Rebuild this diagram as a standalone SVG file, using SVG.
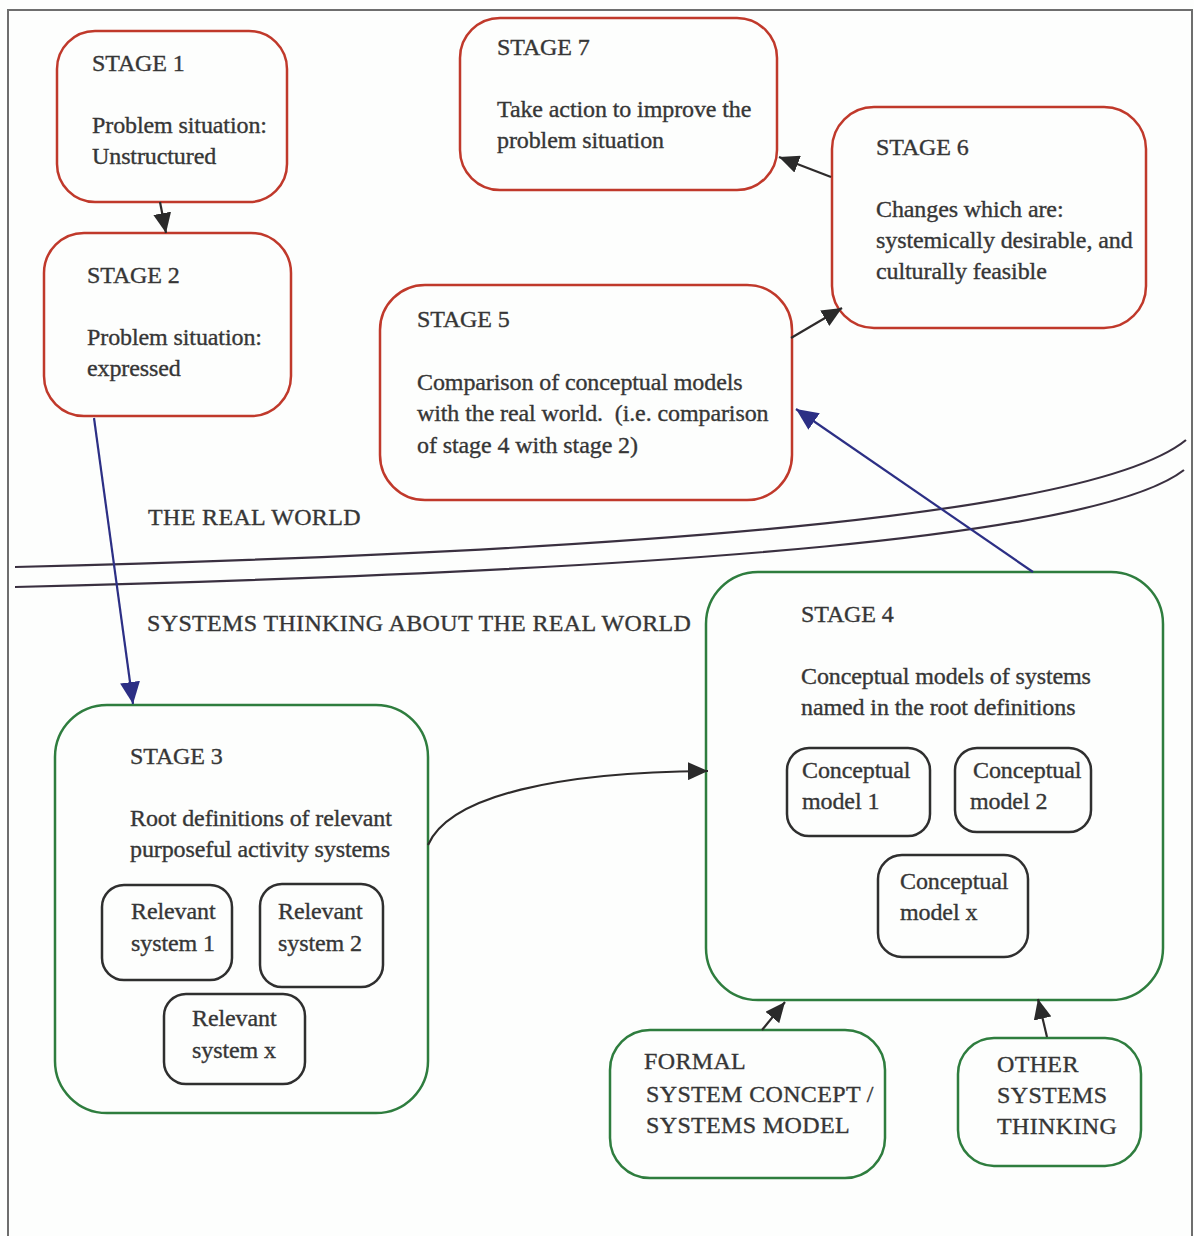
<svg xmlns="http://www.w3.org/2000/svg" width="1194" height="1236" viewBox="0 0 1194 1236">
  <style>
    .t { font-family: "Liberation Serif", "Times New Roman", serif; font-size: 24px; fill: #363636; stroke: #363636; stroke-width: 0.35; letter-spacing: -0.1px; }
    .caps { letter-spacing: 0.35px; }
    .red { fill: none; stroke: #c0392b; stroke-width: 2.5; }
    .green { fill: none; stroke: #2e7d3e; stroke-width: 2.5; }
    .inner { fill: none; stroke: #2f2f2f; stroke-width: 2.5; }
    .blk { fill: none; stroke: #2e2b2b; stroke-width: 2.2; }
    .blue { fill: none; stroke: #2c2f85; stroke-width: 2.2; }
    .divider { fill: none; stroke: #3a3040; stroke-width: 2.2; }
  </style>
  <defs>
    <marker id="ahDark" markerUnits="userSpaceOnUse" markerWidth="22" markerHeight="18" refX="20" refY="9" orient="auto">
      <path d="M0,0 L20,9 L0,18 Z" fill="#2a2a2a"/>
    </marker>
    <marker id="ahBlue" markerUnits="userSpaceOnUse" markerWidth="24" markerHeight="20" refX="22" refY="10" orient="auto">
      <path d="M0,0 L22,10 L0,20 Z" fill="#2c2f85"/>
    </marker>
  </defs>

  <rect width="1194" height="1236" fill="#fdfefd"/>
  <!-- frame -->
  <path d="M8,1236 L8,10 L1192,10 L1192,1236" fill="none" stroke="#6e6e6e" stroke-width="2"/>

  <!-- boundary between the real world and systems thinking -->
  <g id="boundary">
    <path class="divider" d="M15,567 C 700,550 1100,510 1186,440"/>
    <path class="divider" d="M15,587 C 700,570 1100,535 1184,470"/>
    <text class="t caps" x="148" y="525">THE REAL WORLD</text>
    <text class="t caps" x="147" y="631">SYSTEMS THINKING ABOUT THE REAL WORLD</text>
  </g>

  <g id="stage1">
    <rect class="red" x="57" y="31" width="230" height="171" rx="38"/>
    <text class="t" x="92" y="71">STAGE 1</text>
    <text class="t" x="92" y="133">Problem situation:</text>
    <text class="t" x="92" y="164">Unstructured</text>
  </g>

  <g id="stage2">
    <rect class="red" x="44" y="233" width="247" height="183" rx="40"/>
    <text class="t" x="87" y="283">STAGE 2</text>
    <text class="t" x="87" y="345">Problem situation:</text>
    <text class="t" x="87" y="376">expressed</text>
  </g>

  <g id="stage7">
    <rect class="red" x="460" y="18" width="317" height="172" rx="40"/>
    <text class="t" x="497" y="55">STAGE 7</text>
    <text class="t" x="497" y="117">Take action to improve the</text>
    <text class="t" x="497" y="148">problem situation</text>
  </g>

  <g id="stage6">
    <rect class="red" x="832" y="107" width="314" height="221" rx="42"/>
    <text class="t" x="876" y="155">STAGE 6</text>
    <text class="t" x="876" y="217">Changes which are:</text>
    <text class="t" x="876" y="248">systemically desirable, and</text>
    <text class="t" x="876" y="279">culturally feasible</text>
  </g>

  <g id="stage5">
    <rect class="red" x="380" y="285" width="412" height="215" rx="45"/>
    <text class="t" x="417" y="327">STAGE 5</text>
    <text class="t" x="417" y="390">Comparison of conceptual models</text>
    <text class="t" x="417" y="421" xml:space="preserve">with the real world.  (i.e. comparison</text>
    <text class="t" x="417" y="453">of stage 4 with stage 2)</text>
  </g>

  <g id="stage3">
    <rect class="green" x="55" y="705" width="373" height="408" rx="52"/>
    <text class="t" x="130" y="764">STAGE 3</text>
    <text class="t" x="130" y="826">Root definitions of relevant</text>
    <text class="t" x="130" y="857">purposeful activity systems</text>
    <g id="relevant1">
      <rect class="inner" x="102" y="885" width="130" height="95" rx="22"/>
      <text class="t" x="131" y="919">Relevant</text>
      <text class="t" x="131" y="951">system 1</text>
    </g>
    <g id="relevant2">
      <rect class="inner" x="260" y="884" width="123" height="103" rx="22"/>
      <text class="t" x="278" y="919">Relevant</text>
      <text class="t" x="278" y="951">system 2</text>
    </g>
    <g id="relevantx">
      <rect class="inner" x="164" y="994" width="141" height="90" rx="22"/>
      <text class="t" x="192" y="1026">Relevant</text>
      <text class="t" x="192" y="1058">system x</text>
    </g>
  </g>

  <g id="stage4">
    <rect class="green" x="706" y="572" width="457" height="428" rx="52"/>
    <text class="t" x="801" y="622">STAGE 4</text>
    <text class="t" x="801" y="684">Conceptual models of systems</text>
    <text class="t" x="801" y="715">named in the root definitions</text>
    <g id="model1">
      <rect class="inner" x="787" y="748" width="143" height="88" rx="22"/>
      <text class="t" x="802" y="778">Conceptual</text>
      <text class="t" x="802" y="809">model 1</text>
    </g>
    <g id="model2">
      <rect class="inner" x="955" y="748" width="136" height="84" rx="22"/>
      <text class="t" x="973" y="778">Conceptual</text>
      <text class="t" x="970" y="809">model 2</text>
    </g>
    <g id="modelx">
      <rect class="inner" x="878" y="855" width="150" height="102" rx="24"/>
      <text class="t" x="900" y="889">Conceptual</text>
      <text class="t" x="900" y="920">model x</text>
    </g>
  </g>

  <g id="formal">
    <rect class="green" x="610" y="1030" width="275" height="148" rx="40"/>
    <text class="t caps" x="644" y="1069">FORMAL</text>
    <text class="t caps" x="646" y="1102">SYSTEM CONCEPT /</text>
    <text class="t caps" x="646" y="1133">SYSTEMS MODEL</text>
  </g>

  <g id="other">
    <rect class="green" x="958" y="1038" width="183" height="128" rx="36"/>
    <text class="t caps" x="997" y="1072">OTHER</text>
    <text class="t caps" x="997" y="1103">SYSTEMS</text>
    <text class="t caps" x="997" y="1134">THINKING</text>
  </g>

  <!-- connectors -->
  <g id="connectors">
    <path class="blk" d="M160,202 L166,233" marker-end="url(#ahDark)"/>
    <path class="blk" d="M831,177 L779,157" marker-end="url(#ahDark)"/>
    <path class="blk" d="M791,338 L842,308" marker-end="url(#ahDark)"/>
    <path class="blue" d="M94,418 L133,704" marker-end="url(#ahBlue)"/>
    <path class="blue" d="M1033,572 L796,409" marker-end="url(#ahBlue)"/>
    <path class="blk" d="M428,845 C 450,795 560,772 708,771" marker-end="url(#ahDark)"/>
    <path class="blk" d="M762,1030 L785,1002" marker-end="url(#ahDark)"/>
    <path class="blk" d="M1047,1037 L1038,999" marker-end="url(#ahDark)"/>
  </g>
</svg>
